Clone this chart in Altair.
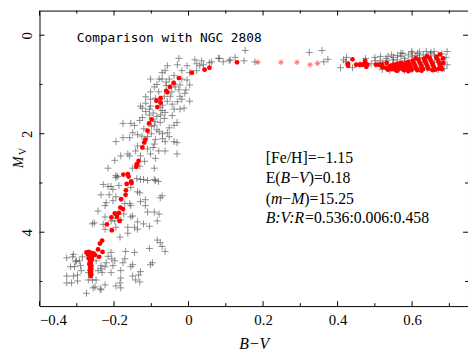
import altair as alt
import pandas as pd

# ---- black crosses: NGC 2808 comparison stars (B-V, Mv) ----
cross_bv = [
    -0.026, -0.004, 0.022, 0.035, 0.056, 0.080, 0.093, 0.109, 0.022, -0.018, 0.003, -0.057, -0.063,
    -0.079, -0.071, -0.052, -0.039, -0.004, -0.018, 0.003, -0.007, -0.010, -0.023, -0.036, -0.092,
    -0.102, -0.089, -0.065, -0.049, -0.057, -0.044, -0.102, -0.102, -0.071, -0.012, 0.003, -0.018,
    0.017, -0.071, -0.102, -0.039, -0.026, -0.023, -0.129, -0.085, -0.060, -0.045, -0.080, -0.030,
    -0.115, -0.060, -0.030, -0.115, -0.070,
    -0.124, -0.105, -0.076, -0.063, -0.039, -0.023, -0.044, -0.065, -0.076, -0.124, -0.131, -0.145,
    -0.176, -0.092, -0.052, -0.039, -0.057, -0.079, -0.137, -0.150, -0.176, -0.158, -0.110, -0.089,
    -0.052, -0.039, -0.063, -0.092, -0.110, -0.137, -0.142, -0.102, -0.063, -0.031, -0.182, -0.158,
    -0.129, -0.118, -0.089, -0.131, -0.150, -0.092, -0.190, -0.129, -0.110, -0.089,
    -0.195, -0.163, -0.198, -0.216, -0.195, -0.155, -0.031, -0.031,
    -0.095, -0.085, -0.105, -0.115, -0.075, -0.090, -0.100, -0.120, -0.085, -0.070, -0.100, -0.125,
    -0.070, -0.095, -0.080,
    -0.195, -0.139, -0.121, -0.092, -0.081, -0.229, -0.216, -0.208, -0.203, -0.187, -0.155, -0.137,
    -0.131, -0.235, -0.213, -0.195, -0.203, -0.221, -0.224, -0.243, -0.158, -0.155, -0.171, -0.129,
    -0.116, -0.071, -0.076, -0.110, -0.092, -0.079, -0.174, -0.155, -0.150, -0.224, -0.198, -0.182,
    -0.137, -0.084, -0.253, -0.258, -0.229, -0.121, -0.163, -0.145, -0.137, -0.195, -0.224, -0.163,
    -0.184, -0.084, -0.076, -0.105, -0.116, -0.208,
    -0.063, -0.105, -0.169, -0.145, -0.208, -0.216, -0.206, -0.198, -0.221, -0.235, -0.248, -0.224,
    -0.235, -0.243, -0.203, -0.176, -0.171, -0.150, -0.155, -0.097, -0.102, -0.327, -0.311, -0.301,
    -0.303, -0.293, -0.285, -0.290, -0.317, -0.306, -0.288, -0.327, -0.309, -0.298, -0.327, -0.314,
    -0.298, -0.258, -0.248, -0.269, -0.232, -0.208, -0.182, -0.182, -0.150, -0.134, -0.129, -0.142,
    -0.131, -0.195, -0.184, -0.182, -0.251, -0.237, -0.256, -0.235, -0.274, -0.309, -0.224, -0.269,
    -0.071,
    0.030, 0.040, 0.062, 0.083, 0.112, 0.125, 0.152, 0.149, 0.178, 0.324, 0.358, 0.374, 0.363,
    0.408, 0.416,
    0.424, 0.421, 0.501, 0.532, 0.535, 0.548, 0.561, 0.575, 0.599, 0.615, 0.638, 0.659, 0.694,
    0.691, 0.694, 0.686, 0.612, 0.625, 0.588, 0.559, 0.522, 0.514,
    0.550, 0.570, 0.580, 0.590, 0.600, 0.610, 0.620, 0.630, 0.640, 0.650, 0.660, 0.670, 0.560,
    0.580, 0.600, 0.620, 0.640, 0.530, 0.545, 0.570, 0.600, 0.620, 0.650, 0.680, 0.680, 0.660,
    0.630, 0.590, 0.550, 0.520, 0.490, 0.470, 0.460, 0.440, 0.475, 0.500, 0.515, 0.565, 0.600,
    0.640, 0.670, 0.580, 0.540, 0.520,
]
cross_mv = [
    0.47, 0.62, 0.58, 0.52, 0.56, 0.47, 0.54, 0.52, 0.72, 0.72, 0.76, 0.62, 0.72,
    0.89, 0.89, 0.89, 0.82, 0.91, 0.89, 1.01, 1.11, 1.18, 1.01, 1.05, 1.05,
    1.15, 1.28, 1.24, 1.24, 1.34, 1.40, 1.30, 1.44, 1.53, 1.48, 1.34, 1.30,
    0.50, 0.76, 0.89, 0.99, 1.11, 1.24, 1.44, 1.00, 1.02, 1.15, 1.15, 1.35,
    1.25, 0.95, 0.60, 1.38, 1.42,
    1.48, 1.50, 1.46, 1.57, 1.50, 1.50, 1.63, 1.69, 1.77, 1.67, 1.73, 1.83,
    1.79, 1.83, 1.88, 1.83, 1.98, 1.96, 2.02, 1.98, 2.08, 2.08, 2.06, 2.12,
    2.06, 2.16, 2.16, 2.21, 2.31, 2.25, 2.35, 2.41, 2.35, 2.41, 2.45, 2.45,
    2.45, 2.56, 2.50, 2.66, 2.70, 2.70, 2.87, 2.93, 2.95, 2.95,
    2.16, 2.41, 2.54, 2.70, 2.85, 1.79, 1.77, 2.18,
    1.58, 1.65, 1.62, 1.55, 1.62, 1.75, 1.85, 1.90, 1.92, 2.00, 2.00, 2.05,
    2.10, 2.28, 2.35,
    2.89, 2.91, 2.93, 2.93, 2.97, 3.03, 3.07, 3.07, 3.13, 3.05, 3.09, 3.18,
    3.20, 3.24, 3.24, 3.28, 3.36, 3.40, 3.46, 3.57, 3.42, 3.46, 3.42, 3.38,
    3.46, 3.26, 3.30, 3.59, 3.59, 3.63, 3.63, 3.69, 3.67, 3.69, 3.77, 3.75,
    3.79, 3.77, 3.81, 3.83, 3.84, 3.83, 3.90, 3.90, 3.94, 3.90, 3.94, 4.02,
    4.10, 4.16, 4.21, 3.88, 3.34, 3.77,
    4.39, 4.33, 4.39, 4.41, 4.41, 4.49, 4.54, 4.58, 4.62, 4.68, 4.58, 4.70,
    4.74, 4.78, 4.68, 4.62, 4.54, 4.66, 4.70, 4.62, 4.66, 4.52, 4.50, 4.58,
    4.60, 4.58, 4.50, 4.68, 4.70, 4.70, 4.78, 4.89, 4.89, 4.87, 5.03, 5.03,
    4.99, 4.97, 4.97, 4.82, 4.82, 4.82, 4.78, 4.93, 4.89, 4.87, 4.80, 4.97,
    5.01, 5.09, 5.03, 5.13, 5.11, 5.15, 5.13, 5.17, 5.24, 4.45, 5.07, 4.97,
    4.29,
    0.62, 0.60, 0.54, 0.47, 0.50, 0.45, 0.31, 0.52, 0.54, 0.35, 0.31, 0.49, 0.54,
    0.66, 0.50,
    0.45, 0.54, 0.52, 0.52, 0.43, 0.50, 0.41, 0.37, 0.33, 0.37, 0.33, 0.33, 0.33,
    0.45, 0.60, 0.68, 0.68, 0.66, 0.66, 0.62, 0.60, 0.52,
    0.45, 0.43, 0.47, 0.40, 0.44, 0.41, 0.45, 0.40, 0.43, 0.38, 0.42, 0.40, 0.50,
    0.52, 0.50, 0.48, 0.47, 0.47, 0.40, 0.36, 0.36, 0.34, 0.35, 0.38, 0.50, 0.55,
    0.55, 0.58, 0.58, 0.56, 0.58, 0.55, 0.60, 0.66, 0.47, 0.45, 0.43, 0.68, 0.70,
    0.68, 0.70, 0.72, 0.72, 0.70,
]

# ---- red filled circles: model points ----
dot_bv = [
    -0.026, -0.040, -0.050, -0.060, -0.057, -0.075, -0.086, -0.075, -0.084, -0.099, -0.106, -0.110,
    -0.116, -0.119, -0.124, -0.134, -0.139, -0.140, -0.163, -0.175, -0.161, -0.154, -0.166, -0.153,
    -0.168, -0.169, -0.181, -0.183, -0.176, -0.198, -0.187, -0.207, -0.192, -0.185, -0.219, -0.206,
    -0.232, -0.238, -0.243, -0.231, -0.240, -0.251,
    -0.274, -0.268, -0.262, -0.270, -0.265, -0.258, -0.263, -0.268, -0.260, -0.264, -0.262, -0.266,
    -0.261, -0.264, -0.261, -0.265, -0.262, -0.264, -0.261, -0.263, -0.265, -0.259, -0.255,
    0.009, 0.043, 0.056, 0.130, 0.428, 0.428, 0.440, 0.450, 0.459, 0.467, 0.474, 0.477, 0.480,
    0.474, 0.503, 0.511, 0.519, 0.532, 0.546,
    0.540, 0.545, 0.550, 0.552, 0.556, 0.560, 0.563, 0.566, 0.570, 0.572, 0.575, 0.578, 0.581,
    0.584, 0.587, 0.590, 0.593, 0.596, 0.599, 0.602, 0.605, 0.608, 0.611, 0.614, 0.617, 0.620,
    0.623, 0.626, 0.629, 0.632, 0.635, 0.638, 0.641, 0.644, 0.647, 0.650, 0.653, 0.656, 0.659,
    0.662, 0.665, 0.668, 0.671, 0.674, 0.677, 0.680, 0.675, 0.683, 0.684, 0.672, 0.655, 0.625,
    0.590, 0.560, 0.610, 0.640, 0.530, 0.520, 0.535,
]
dot_mv = [
    0.87, 0.97, 1.05, 1.13, 1.16, 1.28, 1.33, 1.37, 1.46, 1.71, 1.79, 1.94,
    2.12, 2.18, 2.28, 2.55, 2.62, 2.67, 2.82, 2.83, 2.87, 2.97, 3.02, 3.00,
    3.15, 3.24, 3.33, 3.50, 3.53, 3.62, 3.61, 3.70, 3.69, 3.77, 3.84, 3.96,
    4.17, 4.23, 4.35, 4.40, 4.50, 4.46,
    4.41, 4.40, 4.42, 4.45, 4.47, 4.45, 4.51, 4.53, 4.55, 4.58, 4.62, 4.65,
    4.68, 4.71, 4.74, 4.77, 4.80, 4.83, 4.86, 4.89, 4.62, 4.50, 4.43,
    0.76, 0.70, 0.66, 0.55, 0.62, 0.58, 0.49, 0.60, 0.60, 0.60, 0.56, 0.64, 0.60,
    0.52, 0.60, 0.60, 0.60, 0.56, 0.62,
    0.63, 0.69, 0.60, 0.66, 0.71, 0.58, 0.63, 0.68, 0.56, 0.61, 0.66, 0.71, 0.57,
    0.63, 0.68, 0.54, 0.60, 0.65, 0.70, 0.52, 0.57, 0.62, 0.67, 0.71, 0.50, 0.55,
    0.60, 0.65, 0.69, 0.48, 0.53, 0.58, 0.63, 0.68, 0.46, 0.51, 0.56, 0.61, 0.66,
    0.70, 0.44, 0.49, 0.54, 0.59, 0.64, 0.69, 0.39, 0.47, 0.56, 0.68, 0.71, 0.72,
    0.73, 0.72, 0.47, 0.43, 0.66, 0.65, 0.70,
]

# ---- red asterisks ----
star_bv = [0.186, 0.248, 0.291, 0.326, 0.346]
star_mv = [0.55, 0.55, 0.55, 0.60, 0.57]

# ---- axis ticks ----
x_major = [-0.4, -0.2, 0.0, 0.2, 0.4, 0.6]
x_minor = [-0.3, -0.1, 0.1, 0.3, 0.5, 0.7]
y_major = [0, 2, 4]
y_minor = [1, 3, 5]

# ---- annotation text (segments: text, italic?) ----
note_rows = [
    [("[Fe/H]=\u22121.15", False)],
    [("E(", False), ("B", True), ("\u2212", False), ("V", True), (")=0.18", False)],
    [("(", False), ("m", True), ("\u2212", False), ("M", True), (")=15.25", False)],
    [("B:V:R", True), ("=0.536:0.006:0.458", False)],
]
note_mv = [2.50, 2.91, 3.32, 3.71]
note_bv = 0.207

W, H = 435, 300
SERIF = "Liberation Serif"
FS = 16

xs = alt.Scale(domain=[-0.4, 0.75], nice=False, zero=False)
ys = alt.Scale(domain=[-0.5, 5.5], reverse=True, nice=False, zero=False)

crosses = pd.DataFrame({"bv": cross_bv, "mv": cross_mv})
dots = pd.DataFrame({"bv": dot_bv, "mv": dot_mv})
stars = pd.DataFrame({"bv": star_bv, "mv": star_mv})

PLUS = "M-1,0L1,0M0,-1L0,1"
STAR = "M-1,0L1,0M0,-1L0,1M-0.7,-0.7L0.7,0.7M-0.7,0.7L0.7,-0.7"

x_axis = alt.Axis(values=x_major, format="~g", title="B\u2212V", labelFont=SERIF, labelFontSize=15,
                  labelColor="black", labelPadding=7, titleFont=SERIF, titleFontSize=16,
                  titleFontStyle="italic", titleFontWeight="normal", titleColor="black",
                  titlePadding=8, ticks=False, domain=False, grid=False)
y_axis = alt.Axis(values=y_major, format="d", title=None, labelFont=SERIF, labelFontSize=15,
                  labelColor="black", labelAngle=270, labelAlign="center", labelBaseline="bottom",
                  labelPadding=5, ticks=False, domain=False, grid=False)

base_cross = alt.Chart(crosses).mark_point(
    shape=PLUS, filled=False, color="#444444", strokeWidth=0.8, size=49, opacity=0.75
).encode(
    x=alt.X("bv:Q", scale=xs, axis=x_axis),
    y=alt.Y("mv:Q", scale=ys, axis=y_axis),
)

red_dots = alt.Chart(dots).mark_circle(color="#ff0000", size=24, opacity=1).encode(
    x=alt.X("bv:Q", scale=xs), y=alt.Y("mv:Q", scale=ys)
)

red_stars = alt.Chart(stars).mark_point(
    shape=STAR, filled=False, color="#ff3030", strokeWidth=1, size=30
).encode(x=alt.X("bv:Q", scale=xs), y=alt.Y("mv:Q", scale=ys))


def xticks(vals, L):
    df = pd.DataFrame({"v": vals})
    bot = alt.Chart(df).mark_rule(color="black", strokeWidth=1).encode(
        x=alt.X("v:Q", scale=xs), y=alt.value(H), y2=alt.value(H - L))
    top = alt.Chart(df).mark_rule(color="black", strokeWidth=1).encode(
        x=alt.X("v:Q", scale=xs), y=alt.value(0), y2=alt.value(L))
    return [bot, top]


def yticks(vals, L):
    df = pd.DataFrame({"v": vals})
    left = alt.Chart(df).mark_rule(color="black", strokeWidth=1).encode(
        y=alt.Y("v:Q", scale=ys), x=alt.value(0), x2=alt.value(L))
    right = alt.Chart(df).mark_rule(color="black", strokeWidth=1).encode(
        y=alt.Y("v:Q", scale=ys), x=alt.value(W), x2=alt.value(W - L))
    return [left, right]


ticks = xticks(x_major, 5) + xticks(x_minor, 3) + yticks(y_major, 5) + yticks(y_minor, 3)

title_txt = alt.Chart().mark_text(
    text="Comparison with NGC 2808", font="DejaVu Sans Mono", fontSize=13, align="left",
    baseline="middle", color="black"
).encode(x=alt.datum(-0.30, scale=xs), y=alt.datum(0.06, scale=ys))

# approximate Times-metric advance widths (em) for placing styled segments
REG = {"[": 0.333, "]": 0.333, "F": 0.556, "e": 0.444, "/": 0.278, "H": 0.722, "=": 0.564,
       "\u2212": 0.564, ".": 0.25, "E": 0.611, "(": 0.333, ")": 0.333, ":": 0.278}
ITA = {"B": 0.611, "V": 0.611, "R": 0.611, "m": 0.722, "M": 0.833, ":": 0.333}


def seg_width(s, italic):
    table = ITA if italic else REG
    return sum(table.get(c, 0.5) for c in s) * FS


notes = []
for row, mv in zip(note_rows, note_mv):
    off = 0.0
    for s, it in row:
        notes.append(
            alt.Chart().mark_text(
                text=s, font=SERIF, fontSize=FS, fontStyle="italic" if it else "normal",
                align="left", baseline="middle", color="black", dx=off
            ).encode(x=alt.datum(note_bv, scale=xs), y=alt.datum(mv, scale=ys))
        )
        off += seg_width(s, it)

ytitle_m = alt.Chart().mark_text(
    text="M", font=SERIF, fontSize=14, fontStyle="italic", angle=270, align="center",
    baseline="middle", color="black"
).encode(x=alt.value(-21), y=alt.value(154))
ytitle_v = alt.Chart().mark_text(
    text="V", font=SERIF, fontSize=10, angle=270, align="center",
    baseline="middle", color="black"
).encode(x=alt.value(-17), y=alt.value(143))

chart = alt.layer(
    base_cross, red_dots, red_stars, *ticks, title_txt, *notes, ytitle_m, ytitle_v
).properties(
    width=W, height=H,
    autosize=alt.AutoSizeParams(type="none"),
    padding={"left": 32, "top": 0, "right": 0, "bottom": 46},
).configure_view(stroke="black", strokeWidth=1)

chart.save("out.html", embed_options={"renderer": "svg", "actions": False})
